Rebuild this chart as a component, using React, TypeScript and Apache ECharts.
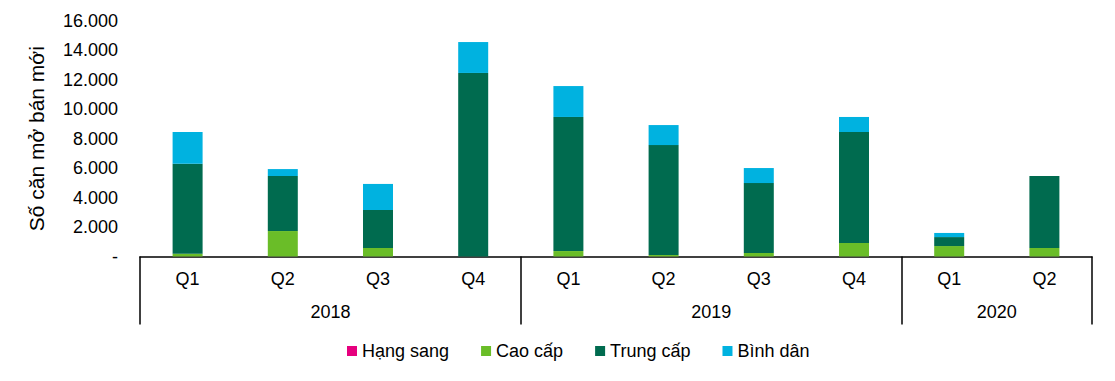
import React, { useEffect, useRef } from "react";
import * as echarts from "echarts";

const quarters = ["Q1", "Q2", "Q3", "Q4", "Q1", "Q2", "Q3", "Q4", "Q1", "Q2"];
const years = ["2018", "2019", "2020"];
const yearCenters = [2, 6, 9];
const yearBounds = [0, 4, 8, 10];

const hangSang = [0, 0, 0, 0, 0, 0, 0, 0, 0, 0];
const caoCap = [190, 1730, 580, 0, 370, 100, 240, 920, 710, 580];
const trungCap = [6110, 3740, 2580, 12470, 9110, 7470, 4750, 7540, 610, 4890];
const binhDan = [2160, 470, 1770, 2100, 2100, 1360, 1020, 1020, 280, 0];

const seriesNames = ["Hạng sang", "Cao cấp", "Trung cấp", "Bình dân"];
const seriesColors = ["#E6007E", "#6ABD28", "#006B4F", "#00B2E0"];

const FONT = "Liberation Sans, Arial, sans-serif";

function fmt(v: number): string {
  if (v === 0) return "-";
  const s = String(Math.round(v));
  return s.replace(/\B(?=(\d{3})+(?!\d))/g, ".");
}

export default function App() {
  const ref = useRef<HTMLDivElement>(null);
  useEffect(() => {
    document.body.style.margin = "0";
    const chart = echarts.init(ref.current!, null, { renderer: "svg" });
    const data = [hangSang, caoCap, trungCap, binhDan];
    chart.setOption({
      animation: false,
      textStyle: { fontFamily: FONT },
      grid: { left: 140, right: 23, top: 21, bottom: 124.5 },
      legend: {
        bottom: 16,
        left: 342,
        itemWidth: 10,
        itemHeight: 10,
        itemGap: 32,
        icon: "rect",
        textStyle: { fontSize: 18, color: "#000", fontFamily: FONT },
        data: seriesNames,
      },
      xAxis: [
        {
          type: "category",
          data: quarters,
          axisLine: { lineStyle: { color: "#000", width: 1.5 } },
          axisTick: { show: false },
          axisLabel: { color: "#000", fontSize: 18, margin: 13, fontFamily: FONT },
        },
        {
          type: "value",
          min: 0,
          max: 10,
          interval: 1,
          position: "bottom",
          axisLine: { show: false },
          splitLine: { show: false },
          axisTick: {
            show: true,
            length: 68,
            customValues: yearBounds,
            lineStyle: { color: "#000", width: 1.5 },
          },
          axisLabel: {
            color: "#000",
            fontSize: 18,
            margin: 46,
            fontFamily: FONT,
            customValues: yearCenters,
            formatter: (v: number) => years[yearCenters.indexOf(v)] ?? "",
          },
        },
      ],
      yAxis: {
        type: "value",
        min: 0,
        max: 16000,
        interval: 2000,
        name: "Số căn mở bán mới",
        nameLocation: "middle",
        nameGap: 93,
        nameTextStyle: { fontSize: 21, color: "#000", fontFamily: FONT },
        axisLine: { show: false },
        axisTick: { show: false },
        splitLine: { show: false },
        axisLabel: {
          color: "#000",
          fontSize: 18,
          margin: 22,
          fontFamily: FONT,
          formatter: (v: number) => fmt(v),
        },
      },
      series: seriesNames.map((name, i) => ({
        name,
        type: "bar",
        stack: "total",
        barWidth: 30,
        xAxisIndex: 0,
        itemStyle: { color: seriesColors[i] },
        data: data[i],
      })),
    });
    return () => chart.dispose();
  }, []);
  return <div ref={ref} style={{ width: 1115, height: 381 }} />;
}
